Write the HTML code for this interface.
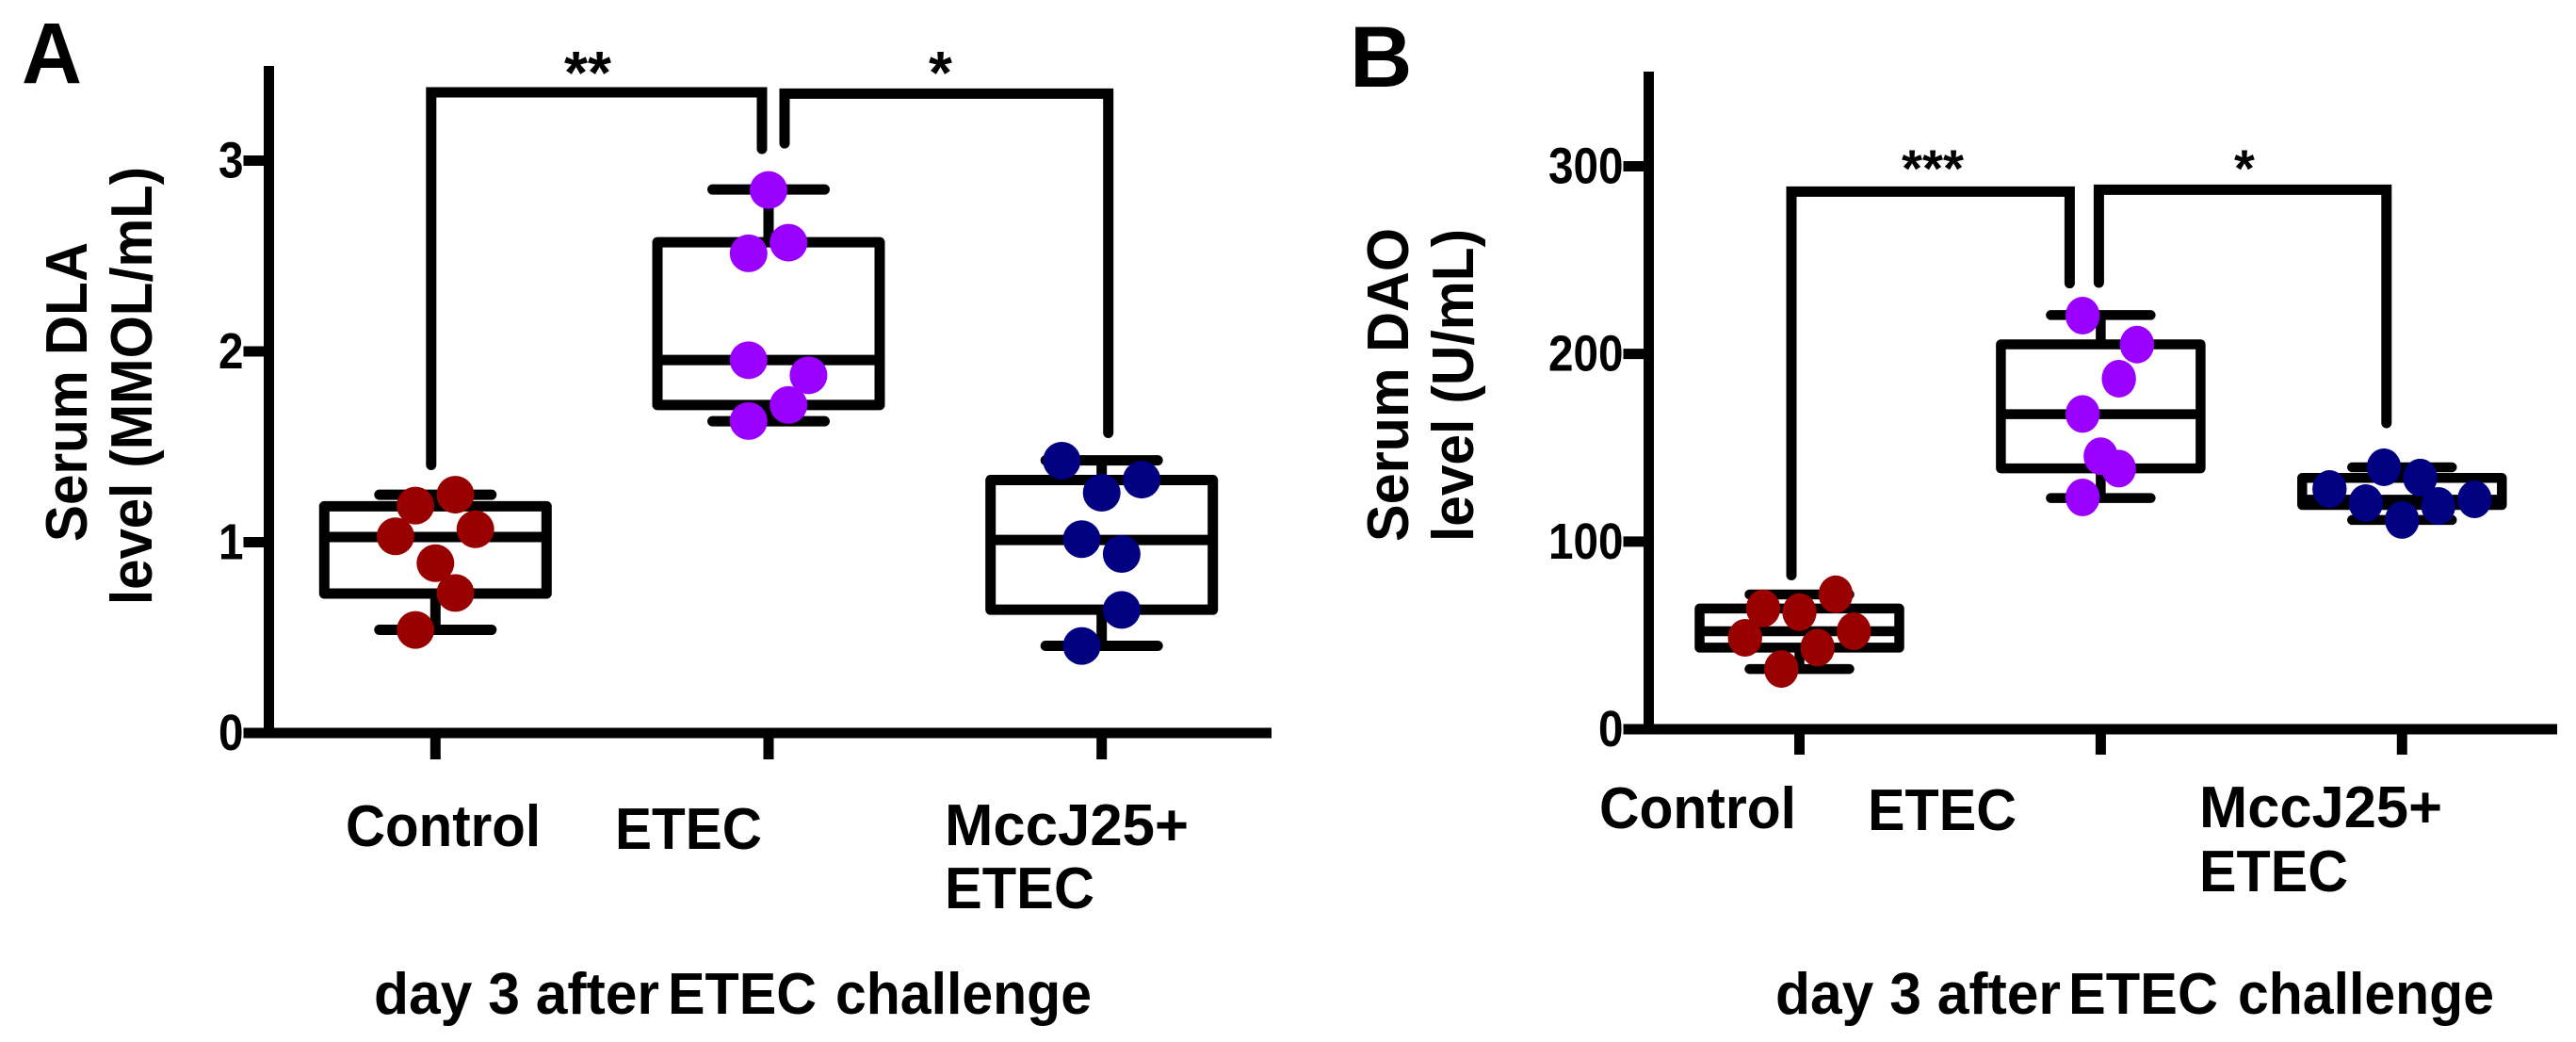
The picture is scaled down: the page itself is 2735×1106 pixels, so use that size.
<!DOCTYPE html>
<html>
<head>
<meta charset="utf-8">
<title>Serum DLA and DAO levels</title>
<style>
html,body{margin:0;padding:0;background:#fff;width:2735px;height:1106px;overflow:hidden}
svg{display:block}
text{font-family:"Liberation Sans",sans-serif;font-weight:bold;fill:#000}
</style>
</head>
<body>
<svg id="figure" width="2735" height="1106" viewBox="0 0 2735 1106" xmlns="http://www.w3.org/2000/svg">
  <text x="23" y="88" font-size="92" textLength="64" lengthAdjust="spacingAndGlyphs">A</text>
  <text x="1433" y="92" font-size="92">B</text>
</svg>
<script>
// ---------- Panel A data (Serum DLA) ----------
const categories = ['Control', 'ETEC', 'MccJ25+ ETEC'];
const dlaTicks = [0, 1, 2, 3];
const dlaMin = [0.541, 1.634, 0.457];
const dlaQ1 = [0.731, 1.719, 0.646];
const dlaMedian = [1.027, 1.955, 1.012];
const dlaQ3 = [1.188, 2.572, 1.326];
const dlaMax = [1.249, 2.849, 1.429];
const dlaControl = [1.192, 1.249, 1.031, 1.068, 0.890, 0.734, 0.540];
const dlaEtec = [2.846, 2.570, 2.514, 1.954, 1.875, 1.719, 1.635];
const dlaMcc = [1.427, 1.328, 1.259, 1.016, 0.938, 0.645, 0.456];
const dlaControlSlots = [-1, 1, -2, 2, 0, 1, -1];
const dlaEtecSlots = [0, 1, -1, -1, 2, 1, -1];
const dlaMccSlots = [-2, 2, 0, -1, 1, 1, -1];
const dlaBracketLeft = [1.405, 3.358, 3.062];
const dlaBracketRight = [3.091, 3.351, 1.573];

// ---------- Panel B data (Serum DAO) ----------
const daoTicks = [0, 100, 200, 300];
const daoMin = [32.1, 123.2, 111.5];
const daoQ1 = [43.5, 139.0, 119.5];
const daoMedian = [52.2, 167.9, 122.3];
const daoQ3 = [64.3, 205.1, 133.9];
const daoMax = [71.8, 220.7, 139.6];
const daoControl = [71.9, 64.4, 62.4, 52.2, 48.7, 43.5, 32.1];
const daoEtec = [220.4, 205, 186.8, 168, 145.5, 138.9, 123.5];
const daoMcc = [139.6, 134.1, 128, 122.5, 120.5, 119, 111.5];
const daoControlSlots = [2, -2, 0, 3, -3, 1, -1];
const daoEtecSlots = [-1, 2, 1, -1, 0, 1, -1];
const daoMccSlots = [-1, 1, -4, 4, -2, 2, 0];
const daoBracketLeft = [82.1, 286.5, 237.7];
const daoBracketRight = [238, 287.5, 163.2];

const groupColors = ['#990000', '#9900ff', '#000080'];
const groupKeys = ['control', 'etec', 'mcc'];

const NS = 'http://www.w3.org/2000/svg';
const svg = document.getElementById('figure');

function shape(tag, attrs, parent) {
  const el = document.createElementNS(NS, tag);
  for (const k in attrs) el.setAttribute(k, attrs[k]);
  parent.appendChild(el);
  return el;
}

function label(str, x, y, size, width, parent, rotate) {
  const attrs = {x: x, y: y, 'font-size': size};
  if (width) { attrs.textLength = width; attrs.lengthAdjust = 'spacingAndGlyphs'; }
  if (rotate) attrs.transform = 'rotate(-90 ' + x + ' ' + y + ')';
  const el = shape('text', attrs, parent);
  el.textContent = str;
  return el;
}

function drawPanel(p) {
  const g = shape('g', {}, svg);
  
  

  const yPos = v => p.y0 - (v * p.yUnit);
  const xPos = i => p.x0 + i * p.xStep;
  const stroke = {stroke: '#000', 'stroke-width': 11, fill: 'none'};
  const thin = {stroke: '#000', 'stroke-width': p.boxStroke, fill: 'none'};

  // axes
  const yAxis = shape('line', Object.assign({x1: p.axisX, x2: p.axisX, y1: p.axisTop, y2: p.y0 + 5.5}, stroke), g);
  
  
  const xAxis = shape('line', Object.assign({x1: p.axisX - 27, x2: p.axisRight, y1: p.y0, y2: p.y0}, stroke), g);
  
  

  // y ticks
  p.ticks.forEach(t => {
    const tick = shape('line', Object.assign({x1: p.axisX - 27, x2: p.axisX, y1: yPos(t), y2: yPos(t)}, stroke), g);
    
    
    const s = String(t);
    const w = s.length * 26.5;
    const tl = label(s, p.axisX - 27 - w, yPos(t) + 18, 54, w, g);
    
    
  });

  // x ticks
  categories.forEach((c, i) => {
    const tick = shape('line', Object.assign({x1: xPos(i), x2: xPos(i), y1: p.y0, y2: p.y0 + p.tickLen}, stroke), g);
    
    
  });

  // boxes
  categories.forEach((c, i) => {
    const cx = xPos(i);
    const whisker = shape('path', Object.assign({
      d: 'M' + cx + ' ' + yPos(p.max[i]) + 'V' + yPos(p.q3[i]) + 'M' + cx + ' ' + yPos(p.q1[i]) + 'V' + yPos(p.min[i])
    }, thin), g);
    
    
    const capMax = shape('line', Object.assign({x1: cx - p.capHalf, x2: cx + p.capHalf, y1: yPos(p.max[i]), y2: yPos(p.max[i]), 'stroke-linecap': 'round'}, thin), g);
    
    
    const capMin = shape('line', Object.assign({x1: cx - p.capHalf, x2: cx + p.capHalf, y1: yPos(p.min[i]), y2: yPos(p.min[i]), 'stroke-linecap': 'round'}, thin), g);
    
    
    const box = shape('rect', Object.assign({x: cx - p.boxHalf, width: 2 * p.boxHalf, y: yPos(p.q3[i]), height: yPos(p.q1[i]) - yPos(p.q3[i]), 'stroke-linejoin': 'round'}, thin), g);
    
    
    const med = shape('line', Object.assign({x1: cx - p.boxHalf, x2: cx + p.boxHalf, y1: yPos(p.median[i]), y2: yPos(p.median[i])}, thin), g);
    
    
  });

  // points
  p.series.forEach((vals, i) => {
    vals.forEach((v, j) => {
      const dot = shape('ellipse', {cx: xPos(i) + p.slots[i][j] * p.slotWidth, cy: yPos(v), rx: p.rx, ry: p.ry, fill: groupColors[i]}, g);
      
      
    });
  });

  // significance brackets
  const L = p.bracketLeft, R = p.bracketRight;
  const o = p.bracketOffsets;
  const bl = shape('path', Object.assign({
    d: 'M' + (xPos(0) + o[0]) + ' ' + yPos(L[0]) + 'V' + yPos(L[1]) + 'H' + (xPos(1) + o[1]) + 'V' + yPos(L[2]),
    'stroke-linecap': 'round'
  }, stroke), g);
  
  
  const br = shape('path', Object.assign({
    d: 'M' + (xPos(1) + o[2]) + ' ' + yPos(R[0]) + 'V' + yPos(R[1]) + 'H' + (xPos(2) + o[3]) + 'V' + yPos(R[2]),
    'stroke-linecap': 'round'
  }, stroke), g);
  
  

  const s1 = label(p.star1, p.star1X, p.starY, p.starSize, p.star1W, g);
  
  
  const s2 = label('*', p.star2X, p.starY, p.starSize, 0, g);
  
  

  // axis titles
  const t1 = label(p.title1[0], p.title1[1], p.title1[2], 62, p.title1[3], g, true);
  
  
  const t2 = label(p.title2[0], p.title2[1], p.title2[2], 62, p.title2[3], g, true);
  
  

  // category labels and footer
  p.catLabels.forEach(c => {
    const cl = label(c[0], c[1], c[2], 62, c[3], g);
    
    
  });
  p.footer.forEach(c => {
    const f = label(c[0], c[1], 1076, 62, c[2], g);
    
    
  });
}

drawPanel({
  id: 'panel-a', ticks: dlaTicks, min: dlaMin, q1: dlaQ1, median: dlaMedian, q3: dlaQ3, max: dlaMax,
  series: [dlaControl, dlaEtec, dlaMcc], slots: [dlaControlSlots, dlaEtecSlots, dlaMccSlots],
  bracketLeft: dlaBracketLeft, bracketRight: dlaBracketRight, bracketOffsets: [-4.5, -7, 17, 7],
  y0: 778, yUnit: 202.5, x0: 462.3, xStep: 353.7, axisX: 285.5, axisTop: 70, axisRight: 1350, tickLen: 28,
  boxHalf: 118, capHalf: 59.5, slotWidth: 21.2, rx: 20, ry: 20, boxStroke: 11,
  star1: '**', star1X: 599, star1W: 50, star2X: 986, starY: 99, starSize: 64,
  title1: ['Serum DLA', 92, 575, 318], title2: ['level (MMOL/mL)', 161, 642, 465],
  catLabels: [['Control', 367, 898, 207], ['ETEC', 653, 901, 156], ['MccJ25+', 1003, 897, 259], ['ETEC', 1003, 964, 159]],
  footer: [['day 3 after', 397, 303], ['ETEC', 709, 158], ['challenge', 887, 272]]
});

drawPanel({
  id: 'panel-b', ticks: daoTicks, min: daoMin, q1: daoQ1, median: daoMedian, q3: daoQ3, max: daoMax,
  series: [daoControl, daoEtec, daoMcc], slots: [daoControlSlots, daoEtecSlots, daoMccSlots],
  bracketLeft: daoBracketLeft, bracketRight: daoBracketRight, bracketOffsets: [-8.5, -33, -2, -16.5],
  y0: 774, yUnit: 1.9917, x0: 1910.5, xStep: 319.9, axisX: 1750.5, axisTop: 76, axisRight: 2715, tickLen: 27,
  boxHalf: 106, capHalf: 53, slotWidth: 19.25, rx: 18.2, ry: 20, boxStroke: 10.5,
  star1: '***', star1X: 2019, star1W: 66, star2X: 2372, starY: 198, starSize: 56,
  title1: ['Serum DAO', 1495, 575, 333], title2: ['level (U/mL)', 1564, 575, 332],
  catLabels: [['Control', 1698, 879, 209], ['ETEC', 1983, 881, 158], ['MccJ25+', 2335, 878, 258], ['ETEC', 2335, 946, 158]],
  footer: [['day 3 after', 1885, 303], ['ETEC', 2196, 159], ['challenge', 2376, 272]]
});
</script>
</body>
</html>
